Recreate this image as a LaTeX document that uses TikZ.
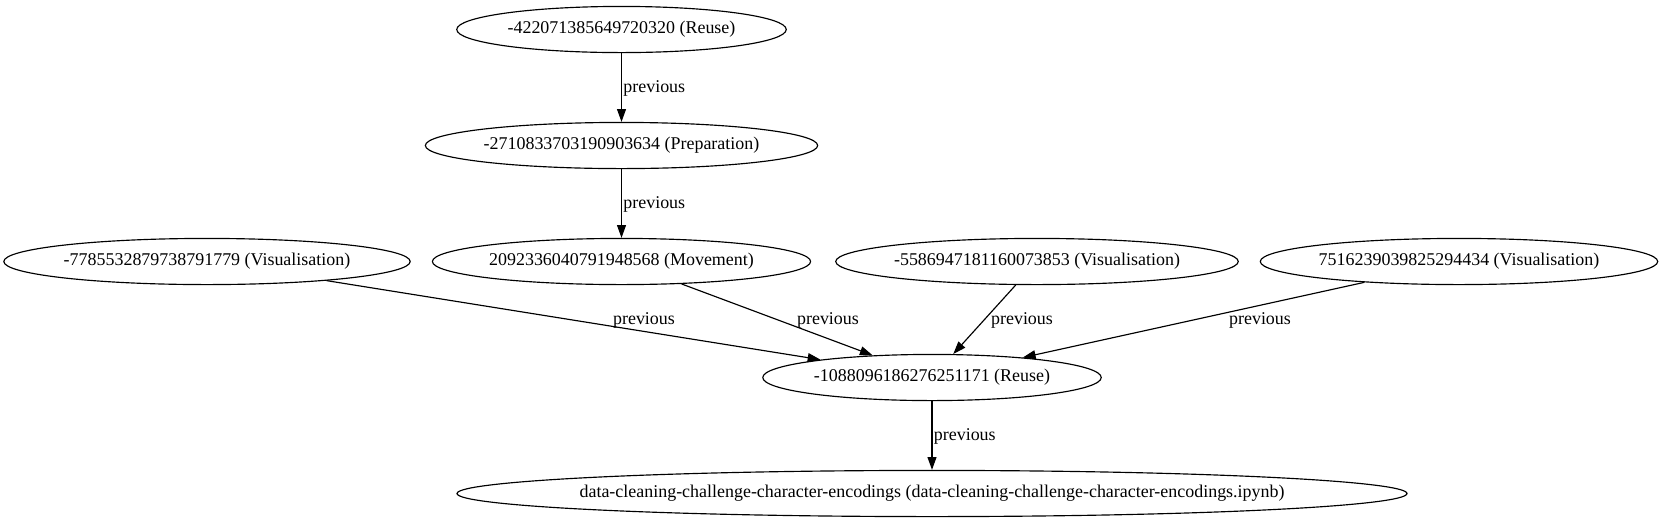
\documentclass[tikz,border=0pt]{standalone}
\usepackage{fontspec}
\setmainfont{Liberation Serif}
\usetikzlibrary{arrows.meta,shapes}

\begin{document}
\begin{tikzpicture}[x=0.78pt,y=-0.78pt,
	font=\fontsize{14pt}{16pt}\selectfont,
	state/.style={draw,ellipse,line width=0.9pt,inner xsep=-20pt,inner ysep=0pt,minimum height=36pt},
	prev/.style={-{Triangle[length=10pt,width=7pt]},line width=0.9pt},
	lbl/.style={inner sep=1pt}]
	\useasboundingbox (0,0) rectangle (1664,523);
	
	% nodes, one row per rank
	\node[state,minimum width=257pt] (reuseTop) at (621.5,29.5) {-422071385649720320 (Reuse)};
	\node[state,minimum width=306pt] (prep) at (621.5,145.5) {-2710833703190903634 (Preparation)};
	\node[state,minimum width=295pt] (move) at (621.5,261.5) {2092336040791948568 (Movement)};
	\node[state,minimum width=317pt] (visA) at (207,261.5) {-7785532879738791779 (Visualisation)};
	\node[state,minimum width=314pt] (visB) at (1037,261.5) {-5586947181160073853 (Visualisation)};
	\node[state,minimum width=310pt] (visC) at (1459,261.5) {7516239039825294434 (Visualisation)};
	\node[state,minimum width=264pt] (reuseMid) at (932,377.5) {-1088096186276251171 (Reuse)};
	\node[state,minimum width=741pt] (nb) at (932,493.5) {data-cleaning-challenge-character-encodings (data-cleaning-challenge-character-encodings.ipynb)};
	
	% edges
	\draw[prev] (reuseTop) -- (prep) node[lbl,midway,right,yshift=-1pt] (l1) {previous};
	\draw[prev] (prep) -- (move) node[lbl,midway,right,yshift=-1pt] (l2) {previous};
	\draw[prev] (visA) -- (reuseMid) node[lbl] (l3) at (644,320) {previous};
	\draw[prev] (move) -- (reuseMid) node[lbl] (l4) at (828,320) {previous};
	\draw[prev] (visB) -- (reuseMid) node[lbl] (l5) at (1022,320) {previous};
	\draw[prev] (visC) -- (reuseMid) node[lbl] (l6) at (1260,320) {previous};
	\draw[prev] (reuseMid) -- (nb) node[lbl,midway,right,yshift=-1pt] (l7) {previous};
\end{tikzpicture}
\end{document}
